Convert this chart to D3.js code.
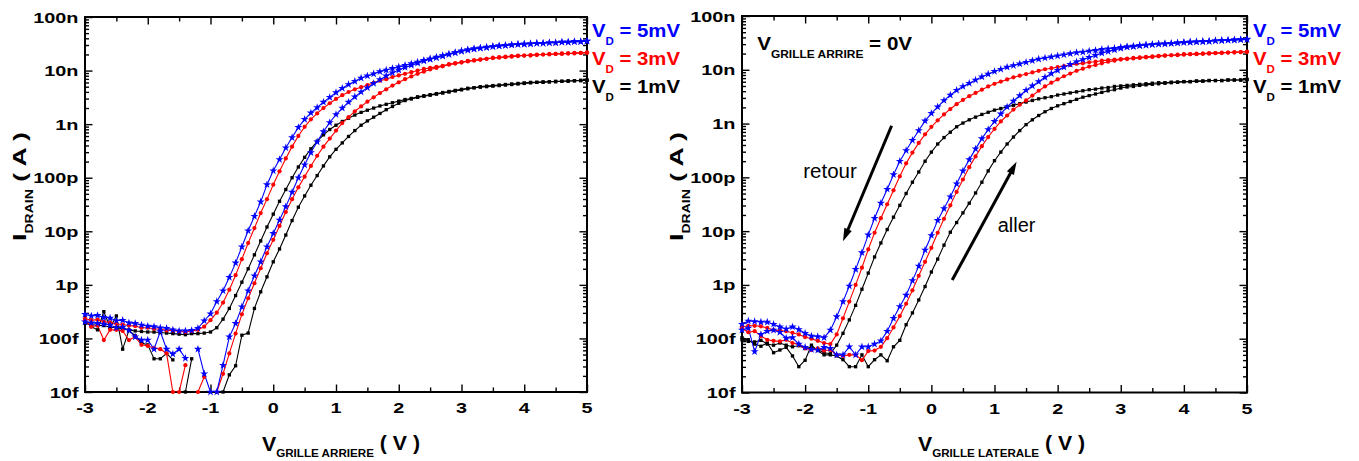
<!DOCTYPE html>
<html><head><meta charset="utf-8">
<script src="https://cdn.jsdelivr.net/npm/d3@7"></script>
<style>
html,body{margin:0;padding:0;background:#fff;}
svg{display:block;}
text{font-family:"Liberation Sans",Arial,Helvetica,sans-serif;white-space:pre;}
</style></head><body>
<svg id="chart" width="1359" height="461"></svg>
<script>
// Gate voltage sweep (V)
const vGate = [-3.0,-2.9,-2.8,-2.7,-2.6,-2.5,-2.4,-2.3,-2.2,-2.1,-2.0,-1.9,-1.8,-1.7,-1.6,-1.5,-1.4,-1.3,-1.2,-1.1,-1.0,-0.9,-0.8,-0.7,-0.6,-0.5,-0.4,-0.3,-0.2,-0.1,0.0,0.1,0.2,0.3,0.4,0.5,0.6,0.7,0.8,0.9,1.0,1.1,1.2,1.3,1.4,1.5,1.6,1.7,1.8,1.9,2.0,2.1,2.2,2.3,2.4,2.5,2.6,2.7,2.8,2.9,3.0,3.1,3.2,3.3,3.4,3.5,3.6,3.7,3.8,3.9,4.0,4.1,4.2,4.3,4.4,4.5,4.6,4.7,4.8,4.9,5.0];

// Drain current, log10(I / A); null = below the axis range
// ---- left panel (V grille arriere) ----
const leftBlueBack = [-12.55,-12.58,-12.57,-12.61,-12.62,-12.67,-12.66,-12.71,-12.72,-12.75,
 -12.77,-12.78,-12.80,-12.81,-12.84,-12.86,-12.86,-12.85,-12.81,-12.67,
 -12.54,-12.31,-12.11,-11.86,-11.59,-11.29,-10.99,-10.72,-10.45,-10.13,
 -9.87,-9.66,-9.44,-9.25,-9.06,-8.91,-8.79,-8.69,-8.59,-8.50,
 -8.41,-8.33,-8.26,-8.20,-8.14,-8.10,-8.06,-8.02,-7.99,-7.96,
 -7.93,-7.90,-7.87,-7.84,-7.81,-7.78,-7.75,-7.72,-7.69,-7.66,
 -7.63,-7.61,-7.59,-7.58,-7.56,-7.55,-7.54,-7.53,-7.52,-7.51,
 -7.50,-7.50,-7.49,-7.49,-7.48,-7.48,-7.47,-7.47,-7.46,-7.46,-7.45];
const leftBlueFwd = [-12.69,-12.71,-12.72,-12.73,-12.75,-12.80,-12.79,-12.85,-12.97,-13.03,
 -13.03,-13.20,-12.87,-13.20,-13.29,-13.20,-13.37,null,-13.20,-13.66,
 -14.0,-14.0,-13.50,-12.97,-12.72,-12.41,-12.11,-11.83,-11.57,-11.29,
 -11.04,-10.79,-10.54,-10.27,-10.00,-9.76,-9.53,-9.33,-9.14,-8.97,
 -8.82,-8.70,-8.59,-8.49,-8.40,-8.32,-8.24,-8.17,-8.10,-8.04,
 -7.99,-7.94,-7.90,-7.86,-7.82,-7.79,-7.76,-7.73,-7.70,-7.67,
 -7.64,-7.62,-7.60,-7.58,-7.57,-7.55,-7.54,-7.53,-7.52,-7.51,
 -7.51,-7.50,-7.49,-7.49,-7.48,-7.48,-7.47,-7.47,-7.46,-7.46,-7.45];
const leftRedBack = [-12.63,-12.66,-12.65,-12.69,-12.70,-12.73,-12.74,-12.76,-12.77,-12.80,
 -12.80,-12.82,-12.83,-12.85,-12.85,-12.87,-12.88,-12.86,-12.84,-12.78,
 -12.66,-12.52,-12.33,-12.09,-11.82,-11.52,-11.22,-10.94,-10.66,-10.40,
 -10.13,-9.88,-9.64,-9.42,-9.22,-9.05,-8.91,-8.80,-8.70,-8.61,
 -8.53,-8.46,-8.40,-8.35,-8.31,-8.27,-8.23,-8.19,-8.16,-8.12,
 -8.09,-8.06,-8.03,-8.00,-7.97,-7.95,-7.93,-7.91,-7.88,-7.86,
 -7.84,-7.82,-7.81,-7.79,-7.78,-7.76,-7.75,-7.74,-7.73,-7.72,
 -7.72,-7.71,-7.70,-7.70,-7.69,-7.69,-7.68,-7.68,-7.67,-7.67,-7.66];
const leftRedFwd = [-12.66,-12.78,-12.76,-13.03,-12.84,-12.84,-12.86,-13.03,-12.97,-13.12,
 -13.14,-13.18,-13.20,-13.28,-14.0,-14.0,-13.50,null,-14.0,-13.72,
 null,-14.0,-13.66,-13.28,-12.91,-12.55,-12.25,-11.97,-11.69,-11.41,
 -11.16,-10.90,-10.64,-10.40,-10.18,-9.98,-9.78,-9.59,-9.42,-9.27,
 -9.12,-8.98,-8.87,-8.76,-8.67,-8.58,-8.50,-8.42,-8.35,-8.28,
 -8.22,-8.16,-8.11,-8.06,-8.02,-7.98,-7.95,-7.92,-7.89,-7.87,
 -7.85,-7.83,-7.81,-7.80,-7.78,-7.77,-7.76,-7.75,-7.74,-7.73,
 -7.72,-7.72,-7.71,-7.70,-7.70,-7.69,-7.69,-7.68,-7.68,-7.67,-7.67];
const leftBlackBack = [-12.72,-12.74,-12.76,-12.76,-12.79,-12.80,-12.82,-12.84,-12.86,-12.87,
 -12.88,-12.88,-12.89,-12.90,-12.91,-12.92,-12.93,-12.91,-12.91,-12.90,
 -12.88,-12.80,-12.64,-12.44,-12.20,-11.95,-11.70,-11.44,-11.18,-10.92,
 -10.68,-10.44,-10.22,-10.00,-9.80,-9.62,-9.46,-9.32,-9.20,-9.10,
 -9.02,-8.95,-8.89,-8.83,-8.78,-8.74,-8.70,-8.66,-8.63,-8.60,
 -8.57,-8.54,-8.52,-8.49,-8.47,-8.45,-8.43,-8.41,-8.39,-8.37,
 -8.35,-8.33,-8.32,-8.30,-8.29,-8.28,-8.27,-8.26,-8.25,-8.24,
 -8.23,-8.22,-8.22,-8.21,-8.21,-8.20,-8.20,-8.19,-8.19,-8.18,-8.18];
const leftBlackFwd = [-12.68,-12.78,-12.84,-12.50,-12.80,-12.58,-13.20,-12.85,-12.95,-13.08,
 -13.12,-13.38,-13.38,-13.28,-13.40,null,-14.0,-13.38,null,null,
 null,null,-14.0,-13.68,-13.51,-12.94,-12.90,-12.44,-12.13,-11.85,
 -11.57,-11.33,-11.07,-10.80,-10.55,-10.34,-10.14,-9.96,-9.78,-9.61,
 -9.47,-9.35,-9.23,-9.12,-9.02,-8.94,-8.87,-8.80,-8.73,-8.67,
 -8.61,-8.56,-8.53,-8.50,-8.48,-8.46,-8.44,-8.42,-8.40,-8.38,
 -8.36,-8.34,-8.32,-8.31,-8.30,-8.29,-8.28,-8.27,-8.26,-8.25,
 -8.24,-8.23,-8.22,-8.22,-8.21,-8.21,-8.20,-8.20,-8.19,-8.19,-8.18];

// ---- right panel (V grille laterale) ----
const rightBlueBack = [-12.73,-12.67,-12.68,-12.69,-12.69,-12.73,-12.78,-12.82,-12.78,-12.83,
 -12.90,-12.95,-12.96,-12.98,-12.84,-12.59,-12.31,-12.02,-11.71,-11.40,
 -11.07,-10.76,-10.48,-10.22,-9.95,-9.70,-9.50,-9.31,-9.13,-8.95,
 -8.81,-8.69,-8.57,-8.47,-8.38,-8.31,-8.25,-8.19,-8.13,-8.08,
 -8.03,-7.99,-7.95,-7.92,-7.89,-7.86,-7.83,-7.80,-7.78,-7.76,
 -7.74,-7.72,-7.70,-7.68,-7.67,-7.65,-7.64,-7.62,-7.61,-7.60,
 -7.58,-7.57,-7.56,-7.55,-7.54,-7.53,-7.52,-7.51,-7.51,-7.50,
 -7.49,-7.48,-7.48,-7.47,-7.47,-7.46,-7.45,-7.45,-7.44,-7.44,-7.43];
const rightBlueFwd = [-12.84,-12.80,-13.24,-12.92,-12.86,-12.84,-12.88,-12.99,-12.98,-13.10,
 -13.16,-13.20,-13.21,-13.16,-13.18,-13.30,-13.30,-13.15,-13.30,-13.15,
 -13.15,-13.10,-13.04,-12.86,-12.62,-12.40,-12.19,-11.92,-11.65,-11.35,
 -11.08,-10.80,-10.58,-10.36,-10.12,-9.88,-9.67,-9.47,-9.28,-9.11,
 -8.96,-8.82,-8.69,-8.58,-8.48,-8.38,-8.30,-8.22,-8.14,-8.07,
 -8.01,-7.95,-7.90,-7.85,-7.81,-7.77,-7.73,-7.69,-7.66,-7.63,
 -7.60,-7.58,-7.57,-7.55,-7.54,-7.53,-7.52,-7.52,-7.51,-7.50,
 -7.49,-7.49,-7.48,-7.48,-7.47,-7.46,-7.46,-7.45,-7.45,-7.44,-7.44];
const rightRedBack = [-12.78,-12.76,-12.76,-12.77,-12.80,-12.84,-12.85,-12.86,-12.89,-12.92,
 -12.97,-13.00,-13.04,-13.08,-13.10,-12.92,-12.62,-12.31,-12.00,-11.68,
 -11.34,-11.03,-10.76,-10.50,-10.24,-9.98,-9.74,-9.54,-9.36,-9.20,
 -9.06,-8.94,-8.83,-8.73,-8.64,-8.56,-8.49,-8.43,-8.37,-8.31,
 -8.26,-8.22,-8.18,-8.14,-8.11,-8.08,-8.05,-8.02,-7.99,-7.97,
 -7.95,-7.93,-7.91,-7.89,-7.88,-7.86,-7.85,-7.83,-7.82,-7.81,
 -7.80,-7.79,-7.78,-7.77,-7.76,-7.75,-7.74,-7.73,-7.73,-7.72,
 -7.71,-7.71,-7.70,-7.70,-7.69,-7.69,-7.68,-7.68,-7.67,-7.67,-7.66];
const rightRedFwd = [-12.81,-12.88,-12.86,-12.95,-13.02,-13.04,-13.05,-13.02,-13.08,-13.11,
 -13.18,-13.21,-13.18,-13.22,-13.21,-13.30,-13.32,-13.30,-13.30,-13.40,
 -13.23,-13.22,-13.15,-12.99,-12.79,-12.58,-12.35,-12.10,-11.83,-11.57,
 -11.31,-11.03,-10.77,-10.52,-10.27,-10.04,-9.81,-9.61,-9.42,-9.25,
 -9.10,-8.96,-8.85,-8.74,-8.65,-8.57,-8.48,-8.39,-8.31,-8.24,
 -8.18,-8.12,-8.07,-8.02,-7.98,-7.94,-7.91,-7.88,-7.85,-7.83,
 -7.81,-7.80,-7.79,-7.78,-7.77,-7.76,-7.75,-7.74,-7.73,-7.73,
 -7.72,-7.71,-7.71,-7.70,-7.70,-7.69,-7.69,-7.68,-7.68,-7.67,-7.67];
const rightBlackBack = [-13.02,-13.05,-13.06,-13.03,-13.10,-13.12,-13.08,-13.12,-13.15,-13.13,
 -13.18,-13.16,-13.20,-13.26,-13.28,-13.12,-12.90,-12.65,-12.38,-12.08,
 -11.78,-11.48,-11.22,-10.97,-10.74,-10.52,-10.30,-10.09,-9.90,-9.70,
 -9.53,-9.38,-9.26,-9.16,-9.06,-8.99,-8.93,-8.88,-8.83,-8.79,
 -8.75,-8.72,-8.69,-8.66,-8.63,-8.60,-8.57,-8.54,-8.52,-8.50,
 -8.47,-8.45,-8.43,-8.41,-8.39,-8.37,-8.36,-8.34,-8.33,-8.31,
 -8.30,-8.29,-8.28,-8.27,-8.26,-8.25,-8.24,-8.24,-8.23,-8.23,
 -8.22,-8.22,-8.21,-8.21,-8.20,-8.20,-8.20,-8.19,-8.19,-8.19,-8.18];
const rightBlackFwd = [-12.98,-13.02,-13.10,-13.14,-13.08,-13.26,-13.21,-13.16,-13.32,-13.52,
 -13.40,-13.12,-13.22,-13.30,-13.30,-13.32,-13.39,-13.52,-13.52,-13.30,
 -13.52,-13.39,-13.30,-13.41,-13.15,-13.03,-12.74,-12.52,-12.28,-12.03,
 -11.76,-11.52,-11.26,-11.02,-10.84,-10.66,-10.48,-10.29,-10.09,-9.88,
 -9.69,-9.53,-9.38,-9.25,-9.13,-9.02,-8.93,-8.85,-8.78,-8.72,
 -8.67,-8.63,-8.59,-8.55,-8.51,-8.48,-8.45,-8.42,-8.39,-8.37,
 -8.34,-8.32,-8.31,-8.29,-8.28,-8.27,-8.26,-8.25,-8.24,-8.23,
 -8.22,-8.22,-8.21,-8.21,-8.20,-8.20,-8.20,-8.19,-8.19,-8.19,-8.18];

// Axis ticks and labels
const xTicks = [-3,-2,-1,0,1,2,3,4,5];
const xMinorTicks = [-2.5,-1.5,-0.5,0.5,1.5,2.5,3.5,4.5];
const yTicks = [1e-14,1e-13,1e-12,1e-11,1e-10,1e-9,1e-8,1e-7];
const yTickLabels = ["10f","100f","1p","10p","100p","1n","10n","100n"];
const legendLabels = ["5mV","3mV","1mV"];
const legendColors = ["#0000ff","#ff0000","#000000"];

const svg = d3.select('#chart');
const FONT = '"Liberation Sans",Arial,Helvetica,sans-serif';

function stretch(sel, k){
  sel.each(function(){
    const w = this.getComputedTextLength();
    this.setAttribute('textLength', (w*k).toFixed(1));
    this.setAttribute('lengthAdjust','spacingAndGlyphs');
  });
}
function fitTo(sel, len){
  sel.attr('textLength', len).attr('lengthAdjust','spacingAndGlyphs');
}

const panels = [
  {key:'L', xr:[85,587], yr:[392,17], sub:'GRILLE ARRIERE', xTitleX:262, xTitleLen:158, yTitleX:26, legendX:592,
   series:[
     {d:leftBlackBack,c:'#000000',s:'sq'},{d:leftBlackFwd,c:'#000000',s:'sq'},
     {d:leftRedBack,c:'#ff0000',s:'ci'},{d:leftRedFwd,c:'#ff0000',s:'ci'},
     {d:leftBlueBack,c:'#0000ff',s:'st'},{d:leftBlueFwd,c:'#0000ff',s:'st'}]},
  {key:'R', xr:[742,1247], yr:[392.5,16], sub:'GRILLE LATERALE', xTitleX:918, xTitleLen:167, yTitleX:683, legendX:1253,
   series:[
     {d:rightBlackBack,c:'#000000',s:'sq'},{d:rightBlackFwd,c:'#000000',s:'sq'},
     {d:rightRedBack,c:'#ff0000',s:'ci'},{d:rightRedFwd,c:'#ff0000',s:'ci'},
     {d:rightBlueBack,c:'#0000ff',s:'st'},{d:rightBlueFwd,c:'#0000ff',s:'st'}]}
];

const symbols = {
  sq: d3.symbol().type(d3.symbolSquare).size(11)(),
  ci: d3.symbol().type(d3.symbolCircle).size(14)(),
  st: d3.symbol().type(d3.symbolStar).size(20)()
};

panels.forEach(p => {
  const x = d3.scaleLinear().domain([-3,5]).range(p.xr);
  const y = d3.scaleLog().domain([1e-14,1e-7]).range(p.yr);
  p.x = x; p.y = y;
  const g = svg.append('g');
  const clipId = 'clip' + p.key;
  svg.append('clipPath').attr('id', clipId).append('rect')
    .attr('x', p.xr[0]).attr('y', p.yr[1])
    .attr('width', p.xr[1]-p.xr[0]).attr('height', p.yr[0]-p.yr[1]);

  // minor y ticks (log)
  const yMinor = [];
  for (let e=-14; e<-7; e++) for (let k=2; k<=9; k++) yMinor.push(k*Math.pow(10,e));

  const axes = [
    g.append('g').attr('transform',`translate(0,${p.yr[0]})`).call(d3.axisBottom(x).tickValues(xTicks).tickSize(-7.5).tickFormat('')),
    g.append('g').attr('transform',`translate(0,${p.yr[0]})`).call(d3.axisBottom(x).tickValues(xMinorTicks).tickSize(-4.5).tickFormat('')),
    g.append('g').attr('transform',`translate(0,${p.yr[1]})`).call(d3.axisTop(x).tickValues(xTicks).tickSize(-7.5).tickFormat('')),
    g.append('g').attr('transform',`translate(0,${p.yr[1]})`).call(d3.axisTop(x).tickValues(xMinorTicks).tickSize(-4.5).tickFormat('')),
    g.append('g').attr('transform',`translate(${p.xr[0]},0)`).call(d3.axisLeft(y).tickValues(yTicks).tickSize(-7.5).tickFormat('')),
    g.append('g').attr('transform',`translate(${p.xr[0]},0)`).call(d3.axisLeft(y).tickValues(yMinor).tickSize(-4).tickFormat('')),
    g.append('g').attr('transform',`translate(${p.xr[1]},0)`).call(d3.axisRight(y).tickValues(yTicks).tickSize(-7.5).tickFormat('')),
    g.append('g').attr('transform',`translate(${p.xr[1]},0)`).call(d3.axisRight(y).tickValues(yMinor).tickSize(-4).tickFormat(''))
  ];
  axes.forEach(a => { a.select('.domain').remove(); a.selectAll('line').attr('stroke','#000').attr('stroke-width',1.4); });

  // frame
  g.append('rect').attr('x',p.xr[0]).attr('y',p.yr[1])
    .attr('width',p.xr[1]-p.xr[0]).attr('height',p.yr[0]-p.yr[1])
    .attr('fill','none').attr('stroke','#000').attr('stroke-width',2);

  // tick labels
  const xl = g.append('g').selectAll('text').data(xTicks).join('text')
    .attr('x', d=>x(d)).attr('y', p.yr[0]+21).attr('text-anchor','middle')
    .attr('font-family',FONT).attr('font-weight','bold').attr('font-size',15.5)
    .text(d=>String(d));
  stretch(xl, 1.28);
  const yl = g.append('g').selectAll('text').data(yTicks).join('text')
    .attr('x', p.xr[0]-6.5).attr('y', d=>y(d)+5.5).attr('text-anchor','end')
    .attr('font-family',FONT).attr('font-weight','bold').attr('font-size',15.5)
    .text((d,i)=>yTickLabels[i]);
  stretch(yl, 1.28);

  // data
  const dg = g.append('g').attr('clip-path',`url(#${clipId})`);
  const line = d3.line().defined(d=>d.L!==null).x(d=>x(d.v)).y(d=>y(Math.pow(10,d.L)));
  p.series.forEach(s => {
    const pts = vGate.map((v,i)=>({v, L: s.d[i]===undefined ? null : s.d[i]}));
    dg.append('path').datum(pts).attr('d', line).attr('fill','none')
      .attr('stroke', s.c).attr('stroke-width', 1.1);
  });
  const mg = g.append('g');
  p.series.forEach(s => {
    const pts = vGate.map((v,i)=>({v, L: s.d[i]})).filter(d=>d.L!==null && d.L!==undefined && d.L>=-14.05);
    mg.selectAll(null).data(pts).join('path')
      .attr('d', symbols[s.s]).attr('fill', s.c)
      .attr('transform', d=>`translate(${x(d.v)},${y(Math.pow(10,d.L))})`);
  });

  // x title
  const xt = g.append('text').attr('x', p.xTitleX).attr('y', 451)
    .attr('font-family',FONT).attr('font-weight','bold');
  xt.append('tspan').attr('font-size',21).text('V');
  xt.append('tspan').attr('font-size',11.5).attr('dy',6).text(p.sub);
  xt.append('tspan').attr('font-size',21).attr('dy',-7).text(' ( V )');
  fitTo(xt, p.xTitleLen);

  // y title
  const yt = g.append('text').attr('transform',`translate(${p.yTitleX},241) rotate(-90)`)
    .attr('font-family',FONT).attr('font-weight','bold');
  yt.append('tspan').attr('font-size',19).text('I');
  yt.append('tspan').attr('font-size',10).attr('dy',7).text('DRAIN');
  yt.append('tspan').attr('font-size',19).attr('dy',-7).text(' ( A )');
  fitTo(yt, 109);

  // legend
  legendLabels.forEach((lab,i) => {
    const t = g.append('text').attr('x', p.legendX).attr('y', 37 + i*28)
      .attr('font-family',FONT).attr('font-weight','bold').attr('fill', legendColors[i]);
    t.append('tspan').attr('font-size',18.5).text('V');
    t.append('tspan').attr('font-size',10.5).attr('dy',8).text('D');
    t.append('tspan').attr('font-size',18.5).attr('dy',-8).text(' = ' + lab);
    fitTo(t, 88);
  });
});

// annotations on right panel (placed in data coordinates)
const R = panels[1];
{
  const g = svg.append('g');
  const t = g.append('text').attr('x', R.x(-2.76)).attr('y', R.y(Math.pow(10,-7.63)))
    .attr('font-family',FONT).attr('font-weight','bold');
  t.append('tspan').attr('font-size',19).text('V');
  t.append('tspan').attr('font-size',11).attr('dy',8).text('GRILLE ARRIRE');
  t.append('tspan').attr('font-size',19).attr('dy',-8).text(' = 0V');
  fitTo(t, 155);

  g.append('text').attr('x', R.x(-2.03)).attr('y', R.y(Math.pow(10,-10.01)))
    .attr('font-family',FONT).attr('font-size',20.5).text('retour');
  g.append('text').attr('x', R.x(1.05)).attr('y', R.y(Math.pow(10,-11.01)))
    .attr('font-family',FONT).attr('font-size',20).text('aller');

  const arrows = [
    {from:[-0.63,-9.04], to:[-1.40,-11.19]},
    {from:[0.33,-11.91], to:[1.35,-9.71]}
  ];
  arrows.forEach(a => {
    const x1 = R.x(a.from[0]), y1 = R.y(Math.pow(10,a.from[1]));
    const x2 = R.x(a.to[0]),   y2 = R.y(Math.pow(10,a.to[1]));
    const dx = x2-x1, dy = y2-y1, L = Math.hypot(dx,dy), ux = dx/L, uy = dy/L;
    const hl = 13, hw = 4;
    const bx = x2 - ux*hl, by = y2 - uy*hl;
    g.append('line').attr('x1',x1).attr('y1',y1).attr('x2',bx+ux*2).attr('y2',by+uy*2)
      .attr('stroke','#000').attr('stroke-width',3);
    g.append('path').attr('d',`M${x2},${y2}L${bx-uy*hw},${by+ux*hw}L${bx+uy*hw},${by-ux*hw}Z`)
      .attr('fill','#000');
  });
}
</script>
</body></html>
